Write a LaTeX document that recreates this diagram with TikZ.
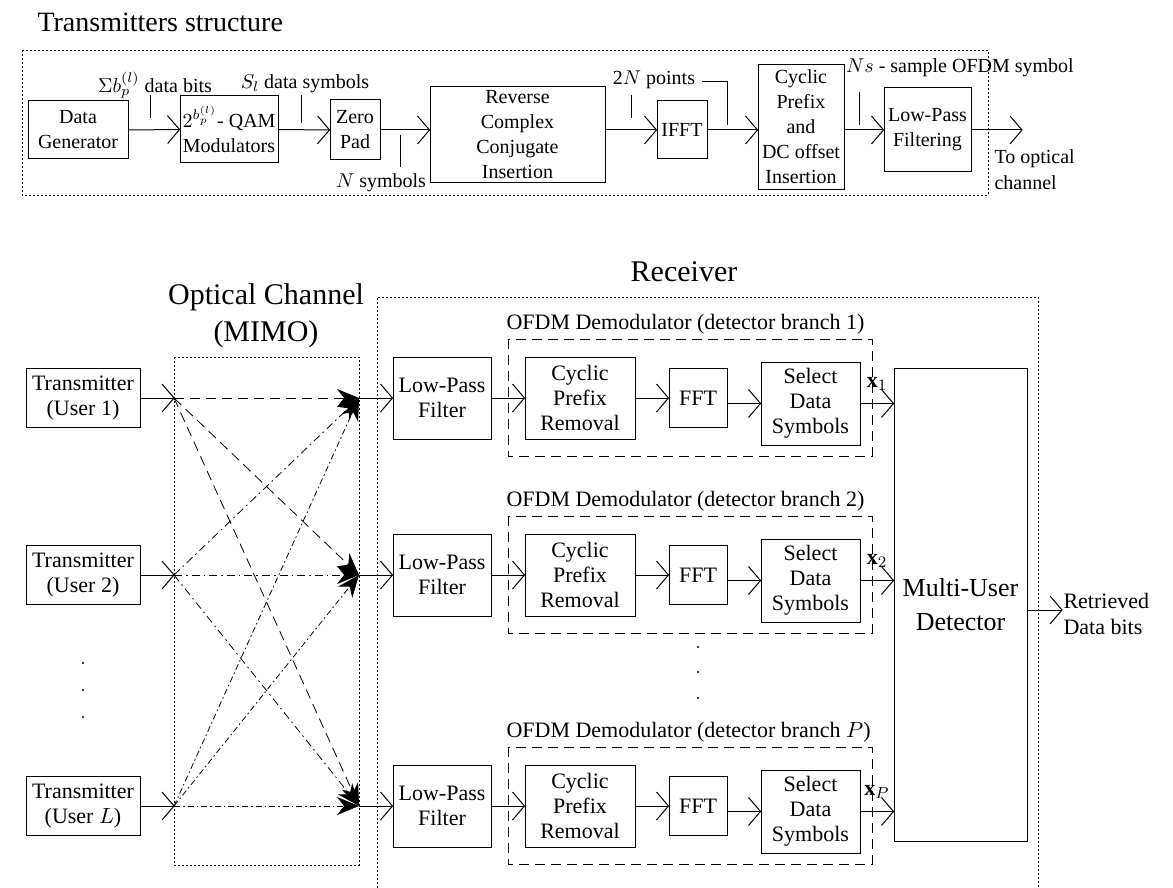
\documentclass[tikz,border=0pt]{standalone}
\usepackage{fontspec}
\setmainfont{Liberation Serif}
\usepackage{amsmath,amssymb}
\usetikzlibrary{arrows.meta}

\pgfdeclarearrow{
	name = OpenVee,
	setup code = {
		\pgfarrowssettipend{0pt}
		\pgfarrowssetlineend{-.5\pgflinewidth}
		\pgfarrowssetbackend{-\pgfarrowlength}
		\pgfarrowshullpoint{0pt}{0pt}
		\pgfarrowsupperhullpoint{-\pgfarrowlength}{.5\pgfarrowwidth}
		\pgfarrowssavethe\pgfarrowlength
		\pgfarrowssavethe\pgfarrowwidth
	},
	drawing code = {
		\pgfsetmiterjoin
		\pgfpathmoveto{\pgfpoint{-\pgfarrowlength}{.5\pgfarrowwidth}}
		\pgfpathlineto{\pgfpointorigin}
		\pgfpathlineto{\pgfpoint{-\pgfarrowlength}{-.5\pgfarrowwidth}}
		\pgfusepathqstroke
	},
	parameters = {\the\pgfarrowlength,\the\pgfarrowwidth},
	defaults = {length=6pt, width=14pt}
}

\tikzset{
	every picture/.style={line width=0.5pt},
	blk/.style={draw, align=center, inner sep=0pt, font=\fontsize{10}{12.5}\selectfont},
	rblk/.style={blk, font=\fontsize{11}{12.5}\selectfont},
	lbl/.style={inner sep=0pt, font=\fontsize{10}{13}\selectfont},
	rlbl/.style={inner sep=0pt, font=\fontsize{11}{13}\selectfont},
	ttl/.style={inner sep=0pt, align=center, font=\fontsize{15}{18.5}\selectfont},
	arr/.style={-{OpenVee[length=6pt,width=14pt]}},
	rx/.style={-{Stealth[length=11pt,width=9pt]}},
	frame/.style={line width=0.4pt, dash pattern=on 1pt off 1pt},
	demod/.style={dash pattern=on 5pt off 3pt},
	chanA/.style={rx, line width=0.4pt, dash pattern=on 5pt off 3pt},
	chanB/.style={rx, line width=0.4pt, dash pattern=on 4pt off 2pt on 0.8pt off 2pt},
	chanC/.style={rx, line width=0.4pt, dash pattern=on 3pt off 1.5pt on 0.8pt off 1.5pt},
}

\begin{document}
\begin{tikzpicture}[x=0.5pt, y=-0.5pt]
	\useasboundingbox (0,0) rectangle (1173,888);
	% transmitters structure
	\node[ttl, font=\fontsize{14}{16}\selectfont, anchor=base west] (txttl) at (37,32) {Transmitters structure};
	\draw[frame] (22,50) rectangle (988,195);
	\node[blk, minimum width=50pt, minimum height=29pt] (gen) at (78,130) {Data\\Generator};
	\node[blk, minimum width=49pt, minimum height=33.5pt] (qam) at (229,129.5) {$2^{b_p^{(l)}}$- QAM\\Modulators};
	\node[blk, minimum width=25pt, minimum height=30pt] (zero) at (355,130) {Zero\\Pad};
	\node[blk, minimum width=87.5pt, minimum height=48pt] (rcci) at (517.5,135) {Reverse\\Complex\\Conjugate\\Insertion};
	\node[blk, minimum width=25pt, minimum height=29pt] (ifft) at (682,130) {IFFT};
	\node[blk, minimum width=43pt, minimum height=62pt] (cpi) at (801,127) {Cyclic\\Prefix\\and\\DC offset\\Insertion};
	\node[blk, minimum width=43.5pt, minimum height=42pt] (lpft) at (927.5,130) {Low-Pass\\Filtering};
	\coordinate (tochan) at (1022,130);
	\draw[arr] (gen.east) -- (qam.west);
	\draw[arr] (qam.east) -- (zero.west);
	\draw[arr] (zero.east) -- (zero.east -| rcci.west);
	\draw[arr] (rcci.east |- ifft) -- (ifft.west);
	\draw[arr] (ifft.east) -- (ifft.east -| cpi.west);
	\draw[arr] (cpi.east |- lpft) -- (lpft.west);
	\draw[arr] (lpft.east) -- (tochan);
	\path (155,85) node[lbl] (bits) {$\Sigma b_p^{(l)}$ data bits};
	\draw (150,95) -- (150,118);
	\path (305,84) node[lbl] (syms) {$S_l$ data symbols};
	\draw (301,95) -- (301,123);
	\path (381,183) node[lbl] (nsym) {$N$ symbols};
	\draw (400,135) -- (400,167);
	\path (654,80) node[lbl] (pts) {2$N$ points};
	\draw (631,95) -- (631,118);
	\draw (702,82) -- (727,82) -- (727,125);
	\path (960,68) node[lbl] (ns) {$Ns$ - sample OFDM symbol};
	\draw (859,92) -- (859,125);
	\node[lbl, anchor=west, align=left] (optc) at (994,170) {To optical\\channel};

	% optical channel and receiver
	\node[ttl] (chttl) at (266,316) {Optical Channel\\(MIMO)};
	\draw[frame] (174,357) rectangle (359,865);
	\node[ttl] (rxttl) at (684,272) {Receiver};
	\draw[frame] (377,888) -- (377,297) -- (1038,297) -- (1038,888);
	\node[rblk, minimum width=66.5pt, minimum height=236.5pt, font=\fontsize{13}{17}\selectfont] (mud) at (960.5,604.5) {Multi-User\\Detector};
	\foreach \i/\y/\u in {1/398/1, 2/575/2, 3/806/$L$}{
		\node[rblk, minimum width=57pt, minimum height=29.5pt] (tx\i) at (83,\y) {Transmitter\\(User \u)};
		\coordinate (s\i) at (174,\y);
		\coordinate (r\i) at (359,\y);
		\draw[arr] (tx\i.east) -- (s\i);
	}
	\foreach \y in {663,690,717}
		\fill (83,\y) circle (0.6pt);
	\foreach \j in {1,2,3}{
		\draw[chanA] (s1) -- (r\j);
		\draw[chanB] (s2) -- (r\j);
		\draw[chanC] (s3) -- (r\j);
	}
	\foreach \i/\y/\lab/\sub in {1/398/1/1, 2/575/2/2, 3/806/$P$/P}{
		\draw[demod] (508,\y-59) rectangle (872,\y+58);
		\node[rlbl, anchor=base west] (dlab\i) at (506,\y-69) {OFDM Demodulator (detector branch \lab)};
		\node[rblk, minimum width=49pt, minimum height=41pt] (lpf\i) at (442,\y) {Low-Pass\\Filter};
		\node[rblk, minimum width=55pt, minimum height=41pt] (cpr\i) at (580,\y) {Cyclic\\Prefix\\Removal};
		\node[rblk, minimum width=29pt, minimum height=29.5pt] (fft\i) at (698,\y) {FFT};
		\node[rblk, minimum width=49.5pt, minimum height=41.5pt] (sds\i) at (810.5,\y+5.5) {Select\\Data\\Symbols};
		\draw[arr] (r\i) -- (lpf\i.west);
		\draw[arr] (lpf\i.east) -- (cpr\i.west);
		\draw[arr] (cpr\i.east) -- (fft\i.west);
		\draw[arr] (fft\i.east |- sds\i) -- (sds\i.west);
		\draw[arr] (sds\i.east) -- (sds\i.east -| mud.west);
		\node[rlbl] (xl\i) at (877,\y-14) {$\mathbf{x}_{\sub}$};
	}
	\foreach \y in {647,672,698}
		\fill (698,\y) circle (0.6pt);
	\coordinate (ret) at (1062,610);
	\draw[arr] (mud.east |- ret) -- (ret);
	\node[rlbl, anchor=west, align=left] (retl) at (1063,614) {Retrieved\\Data bits};
\end{tikzpicture}
\end{document}
